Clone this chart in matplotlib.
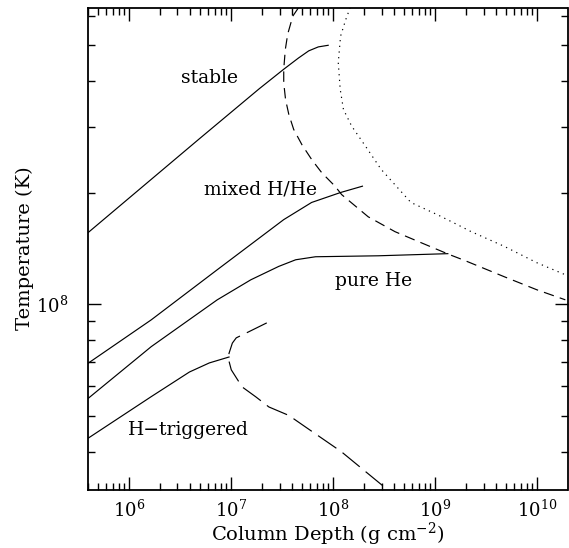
import numpy as np
import matplotlib
matplotlib.use("Agg")
import matplotlib.pyplot as plt
from matplotlib.ticker import LogLocator, LogFormatterSciNotation, NullFormatter

plt.rcParams['font.family'] = ['DejaVu Serif']
plt.rcParams['mathtext.fontset'] = 'dejavuserif'
plt.rcParams['lines.scale_dashes'] = False

# column depth (g cm^-2) and temperature (1e8 K)
stable_y = [4.0e5, 4.9e6, 1.9e7, 3.3e7, 4.6e7, 5.8e7, 7.2e7, 9.0e7]
stable_T = [1.56, 2.79, 3.81, 4.30, 4.61, 4.82, 4.94, 4.99]

mixed_y = [4.0e5, 1.66e6, 7.36e6, 3.3e7, 6.19e7, 1.19e8, 1.95e8]
mixed_T = [0.693, 0.907, 1.238, 1.69, 1.88, 2.00, 2.08]

pureHe_y = [4.0e5, 1.66e6, 7.36e6, 1.57e7, 2.95e7, 4.32e7, 6.77e7, 2.78e8, 1.34e9]
pureHe_T = [0.557, 0.768, 1.027, 1.163, 1.264, 1.317, 1.342, 1.35, 1.368]

htrig_y = [4.0e5, 1.66e6, 3.93e6, 6.15e6, 9.6e6]
htrig_T = [0.435, 0.563, 0.656, 0.694, 0.720]

# dashed boundary
dash_y = [4.62e7, 4.05e7, 3.61e7, 3.42e7, 3.30e7, 3.30e7, 3.44e7, 3.70e7, 4.13e7,
          4.98e7, 6.23e7, 7.80e7, 1.05e8, 1.22e8, 2.22e8, 4.07e8, 7.30e8, 1.39e9,
          1.95e9, 4.80e9, 1.0e10, 1.9e10]
dash_T = [6.31, 5.98, 5.35, 4.86, 4.30, 3.95, 3.56, 3.25, 2.96,
          2.69, 2.45, 2.26, 2.08, 1.974, 1.72, 1.568, 1.465, 1.36,
          1.312, 1.185, 1.093, 1.027]

# dotted boundary
dot_y = [1.48e8, 1.34e8, 1.19e8, 1.13e8, 1.18e8, 1.27e8, 1.53e8, 2.14e8, 2.97e8,
         5.82e8, 1.07e9, 1.67e9, 2.24e9, 4.80e9, 1.0e10, 1.9e10]
dot_T = [6.31, 5.86, 5.28, 4.48, 3.80, 3.35, 3.02, 2.64, 2.31,
         1.88, 1.74, 1.637, 1.571, 1.431, 1.293, 1.20]

# long-dashed boundary
long_y = [2.25e7, 1.51e7, 1.13e7, 1.035e7, 9.62e6, 9.41e6, 1.01e7, 1.29e7, 1.76e7,
          2.36e7, 3.70e7, 5.41e7, 1.21e8, 3.48e8]
long_T = [0.890, 0.843, 0.811, 0.785, 0.738, 0.716, 0.665, 0.598, 0.562,
          0.528, 0.501, 0.466, 0.400, 0.315]

labels = ["stable", "mixed H/He", "pure He", "H\u2212triggered"]
label_y = [6.15e6, 1.97e7, 2.48e8, 3.84e6]
label_T = [3.96, 1.974, 1.116, 0.444]

fig = plt.figure(figsize=(5.69, 5.48), dpi=100)
ax = fig.add_axes([88/569, 1-489.5/548, 479.5/569, (489.5-7.5)/548])

lw = 0.85
for xs, ts in [(stable_y, stable_T), (mixed_y, mixed_T), (pureHe_y, pureHe_T), (htrig_y, htrig_T)]:
    ax.plot(xs, np.array(ts)*1e8, color='black', lw=lw)
ax.plot(dash_y, np.array(dash_T)*1e8, color='black', lw=lw, ls=(0, (7.5, 4.5)))
ax.plot(dot_y, np.array(dot_T)*1e8, color='black', lw=lw, ls=(0, (0.9, 3.2)))
ax.plot(long_y, np.array(long_T)*1e8, color='black', lw=lw, ls=(0, (16, 5.5)))

for s, xv, tv in zip(labels, label_y, label_T):
    ax.text(xv, tv*1e8, s, ha='center', va='baseline', fontsize=13.5)

ax.set_xscale('log')
ax.set_yscale('log')
ax.set_xlim(10**5.6, 10**10.3)
ax.set_ylim(10**7.5, 10**8.8)

for axis in (ax.xaxis, ax.yaxis):
    axis.set_major_locator(LogLocator(base=10))
    axis.set_minor_locator(LogLocator(base=10, subs=np.arange(2, 10)))
    axis.set_major_formatter(LogFormatterSciNotation())
    axis.set_minor_formatter(NullFormatter())

ax.tick_params(which='both', direction='in', top=True, right=True, width=1.0, labelsize=13)
ax.tick_params(which='major', length=9.5, pad=7)
ax.tick_params(which='minor', length=5)
ax.tick_params(axis='y', which='major', pad=14.5)
for sp in ax.spines.values():
    sp.set_linewidth(1.3)

ax.set_xlabel("Column Depth (g cm$^{-2}$)", fontsize=14, labelpad=0.5)
ax.set_ylabel("Temperature (K)", fontsize=14, labelpad=1)

fig.savefig("out.png", dpi=100)
